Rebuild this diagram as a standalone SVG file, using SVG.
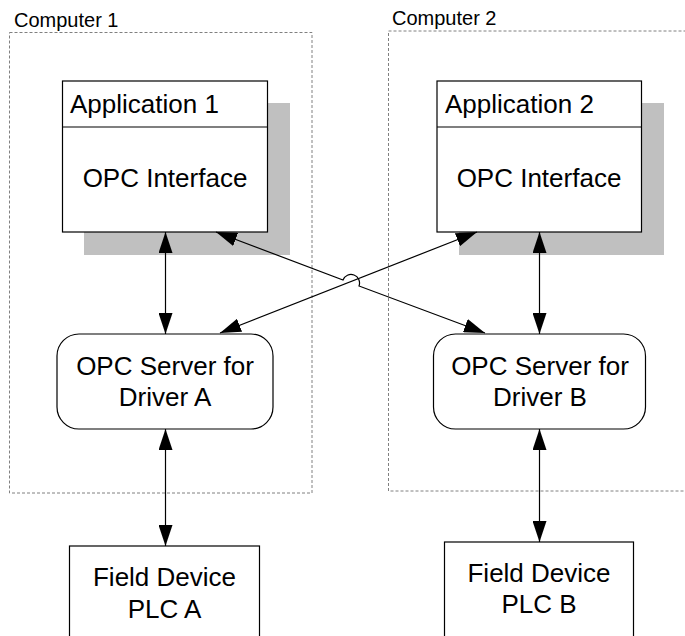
<svg xmlns="http://www.w3.org/2000/svg" width="685" height="636" viewBox="0 0 685 636">
<defs>
<style>
.container{fill:none;stroke:#808080;stroke-width:1;stroke-dasharray:3,2}
.box{fill:#fff;stroke:#000;stroke-width:1.2}
.shadow{fill:#c0c0c0;stroke:none}
.lbl{font-family:"Liberation Sans",Arial,sans-serif;font-size:20px;fill:#000}
.txt{font-family:"Liberation Sans",Arial,sans-serif;font-size:26px;fill:#000}
.mid{text-anchor:middle}
.conn{fill:none;stroke:#000;stroke-width:1.2;marker-start:url(#ah);marker-end:url(#ah)}
</style>
<marker id="ah" viewBox="0 0 21 14" refX="21" refY="7" markerWidth="21" markerHeight="14" markerUnits="userSpaceOnUse" orient="auto-start-reverse">
<path d="M0,0 L21,7 L0,14 z" fill="#000"/>
</marker>
</defs>

<g id="computer1">
<rect class="container" x="9.5" y="32.5" width="302.5" height="460.5"/>
<text class="lbl" x="14" y="27">Computer 1</text>
</g>
<g id="computer2">
<rect class="container" x="388.5" y="31" width="320" height="460"/>
<text class="lbl" x="392" y="25">Computer 2</text>
</g>

<g id="app1">
<rect class="shadow" x="84" y="103" width="206" height="152"/>
<rect class="box" x="62.5" y="81" width="205" height="151"/>
<line x1="62.5" y1="127" x2="267.5" y2="127" stroke="#000" stroke-width="1.2"/>
<text class="txt" x="70" y="113">Application 1</text>
<text class="txt mid" x="165" y="187">OPC Interface</text>
</g>

<g id="app2">
<rect class="shadow" x="459" y="103" width="205" height="152"/>
<rect class="box" x="437" y="81" width="204.5" height="151"/>
<line x1="437" y1="127" x2="641.5" y2="127" stroke="#000" stroke-width="1.2"/>
<text class="txt" x="445" y="113">Application 2</text>
<text class="txt mid" x="539" y="187">OPC Interface</text>
</g>

<g id="serverA">
<rect class="box" x="57" y="334" width="216" height="95" rx="22" ry="22"/>
<text class="txt mid" x="165" y="375">OPC Server for</text>
<text class="txt mid" x="165" y="406">Driver A</text>
</g>

<g id="serverB">
<rect class="box" x="433.5" y="334" width="212" height="95" rx="22" ry="22"/>
<text class="txt mid" x="540" y="375">OPC Server for</text>
<text class="txt mid" x="540" y="406">Driver B</text>
</g>

<g id="deviceA">
<rect class="box" x="69.5" y="546" width="190" height="100"/>
<text class="txt mid" x="164.5" y="586">Field Device</text>
<text class="txt mid" x="164.5" y="618">PLC A</text>
</g>

<g id="deviceB">
<rect class="box" x="444.5" y="542" width="189" height="104"/>
<text class="txt mid" x="539" y="582">Field Device</text>
<text class="txt mid" x="539" y="613">PLC B</text>
</g>

<g id="connectors">
<line class="conn" x1="165.5" y1="232" x2="165.5" y2="334"/>
<line class="conn" x1="539.5" y1="232" x2="539.5" y2="334"/>
<line class="conn" x1="165.5" y1="429" x2="165.5" y2="546"/>
<line class="conn" x1="539.5" y1="429" x2="539.5" y2="542"/>
<path class="conn" d="M216,232 L343,280 A8.5,8.5 0 0 1 359,286 L485,333"/>
<line class="conn" x1="477" y1="232" x2="220" y2="333"/>
</g>
</svg>
